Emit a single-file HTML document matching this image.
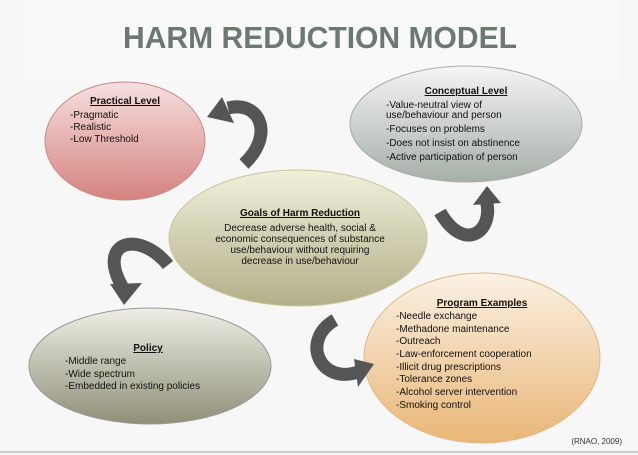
<!DOCTYPE html>
<html><head><meta charset="utf-8"><style>
html,body{margin:0;padding:0;background:#f7f7f7;}
svg{display:block}
text{font-family:"Liberation Sans",Arial,sans-serif;fill:#111;font-size:10px}
.h{font-weight:bold;text-decoration:underline}
</style></head><body>
<svg width="638" height="455" viewBox="0 0 638 455">
<defs>
<linearGradient id="gp" x1="0" y1="0" x2="0" y2="1"><stop offset="0" stop-color="#f6e0e0"/><stop offset="1" stop-color="#d4837f"/></linearGradient>
<linearGradient id="gc" x1="0" y1="0" x2="0" y2="1"><stop offset="0" stop-color="#f4f5f4"/><stop offset="1" stop-color="#a6afa8"/></linearGradient>
<linearGradient id="gg" x1="0" y1="0" x2="0" y2="1"><stop offset="0" stop-color="#f1f0dc"/><stop offset="1" stop-color="#b2af88"/></linearGradient>
<linearGradient id="gpo" x1="0" y1="0" x2="0" y2="1"><stop offset="0" stop-color="#eeeee6"/><stop offset="1" stop-color="#909078"/></linearGradient>
<linearGradient id="gpr" x1="0" y1="0" x2="0" y2="1"><stop offset="0" stop-color="#fbf1e4"/><stop offset="1" stop-color="#e9b677"/></linearGradient>
</defs>
<rect x="0" y="0" width="638" height="455" fill="#f7f7f7"/>
<rect x="22" y="0" width="598" height="82" fill="#f9f9f9"/>
<text x="123" y="48" textLength="394" lengthAdjust="spacingAndGlyphs" style="font-size:31px;font-weight:bold;fill:#6b7a70">HARM REDUCTION MODEL</text>
<line x1="0" y1="452" x2="638" y2="452" stroke="#ccc" stroke-width="2"/>

<ellipse cx="125" cy="141" rx="80" ry="59" fill="url(#gp)" stroke="#c98a88"/>
<ellipse cx="466" cy="124" rx="116" ry="58" fill="url(#gc)" stroke="#aaa"/>
<ellipse cx="298" cy="238" rx="129" ry="68" fill="url(#gg)" stroke="#c9c59a"/>
<ellipse cx="150" cy="366" rx="121" ry="58" fill="url(#gpo)" stroke="#999"/>
<ellipse cx="482" cy="358" rx="118" ry="85" fill="url(#gpr)" stroke="#e0b885"/>

<g fill="none" stroke="#555" stroke-width="13">
<path d="M244 164 C275 135 260 100 228 108"/>
<path d="M168 265 C140 230 95 240 123 288"/>
<path d="M440 212 C465 255 495 230 486 200"/>
<path d="M335 320 C300 340 320 385 358 372"/>
</g>
<g fill="#555">
<polygon points="207,117 222,97 234,123"/>
<polygon points="124,305 110,284 142,283"/>
<polygon points="487,186 473,205 501,203"/>
<polygon points="374,364 354,359 358,387"/>
</g>

<text x="125" y="104" text-anchor="middle" class="h">Practical Level</text>
<text x="70" y="118">-Pragmatic</text>
<text x="70" y="130">-Realistic</text>
<text x="70" y="142">-Low Threshold</text>

<text x="466" y="94" text-anchor="middle" class="h">Conceptual Level</text>
<text x="386" y="108">-Value-neutral view of</text>
<text x="386" y="118">use/behaviour and person</text>
<text x="386" y="132">-Focuses on problems</text>
<text x="386" y="146">-Does not insist on abstinence</text>
<text x="386" y="160">-Active participation of person</text>

<text x="300" y="216" text-anchor="middle" class="h">Goals of Harm Reduction</text>
<text x="300" y="231" text-anchor="middle">Decrease adverse health, social &amp;</text>
<text x="300" y="242" text-anchor="middle">economic consequences of substance</text>
<text x="300" y="253" text-anchor="middle">use/behaviour without requiring</text>
<text x="300" y="264" text-anchor="middle">decrease in use/behaviour</text>

<text x="148" y="351" text-anchor="middle" class="h">Policy</text>
<text x="65" y="364">-Middle range</text>
<text x="65" y="377">-Wide spectrum</text>
<text x="65" y="389">-Embedded in existing policies</text>

<text x="482" y="306" text-anchor="middle" class="h">Program Examples</text>
<text x="396" y="319">-Needle exchange</text>
<text x="396" y="332">-Methadone maintenance</text>
<text x="396" y="344">-Outreach</text>
<text x="396" y="357">-Law-enforcement cooperation</text>
<text x="396" y="370">-Illicit drug prescriptions</text>
<text x="396" y="382">-Tolerance zones</text>
<text x="396" y="395">-Alcohol server intervention</text>
<text x="396" y="408">-Smoking control</text>

<text x="622" y="444" text-anchor="end" style="font-size:8px;fill:#333">(RNAO, 2009)</text>
</svg>
</body></html>
